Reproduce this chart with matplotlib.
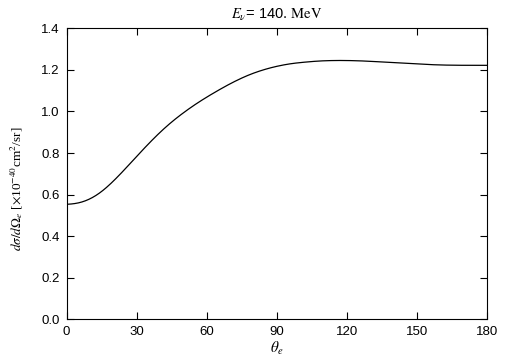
import matplotlib
matplotlib.use('Agg')
import matplotlib.pyplot as plt
import numpy as np

# angle (deg) and differential cross section
theta = [0, 5.7, 11.3, 14.1, 18.4, 25, 30, 35, 40, 45, 50, 55, 61,
         70, 78.4, 87, 95.6, 108.4, 117, 125.6, 135.4, 143.9, 152, 161, 170, 180]
dsig = [0.552, 0.556, 0.583, 0.603, 0.645, 0.722, 0.785, 0.845, 0.902, 0.952,
        0.995, 1.035, 1.077, 1.135, 1.180, 1.211, 1.231, 1.244, 1.246, 1.244,
        1.238, 1.232, 1.227, 1.223, 1.222, 1.222]

xticks = [0, 30, 60, 90, 120, 150, 180]
yticks = [0.0, 0.2, 0.4, 0.6, 0.8, 1.0, 1.2, 1.4]

plt.rcParams['font.family'] = ['Liberation Sans', 'DejaVu Sans']
plt.rcParams['mathtext.fontset'] = 'stix'

fig = plt.figure(figsize=(5.05, 3.61), dpi=100)
ax = fig.add_axes([0.132, 0.1155, 0.833, 0.806])

# smooth the read points for drawing (gaussian, sigma ~3.5 deg)
xs = np.linspace(0, 180, 361)
ys = np.interp(xs, theta, dsig)
g = np.arange(-24, 25)
k = np.exp(-0.5 * (g / 7.0) ** 2)
k /= k.sum()
ys_s = np.convolve(np.pad(ys, 24, mode='edge'), k, mode='valid')
ax.plot(xs, ys_s, color='black', lw=0.9)

ax.set_xlim(0, 180)
ax.set_ylim(0, 1.4)
ax.set_xticks(xticks)
ax.set_yticks(yticks)
ax.set_yticklabels(['%.1f' % v for v in yticks])
ax.tick_params(direction='in', length=5, width=0.8, top=True, right=True,
               labelsize=9.5, pad=5)
for s in ax.spines.values():
    s.set_linewidth(0.8)

ax.set_title(r'$E_\nu$= 140. $\mathrm{MeV}$', fontsize=10.5, pad=7)
ax.set_xlabel(r'$\theta_e$', fontsize=11, labelpad=1)
ax.set_ylabel(r'$d\sigma/d\Omega_e$ [$\times$10$^{-40}$cm$^2$/sr]',
              fontsize=9.5, family='Liberation Serif')
ax.yaxis.set_label_coords(-0.098, 0.448)

fig.savefig('out.png', dpi=100)
